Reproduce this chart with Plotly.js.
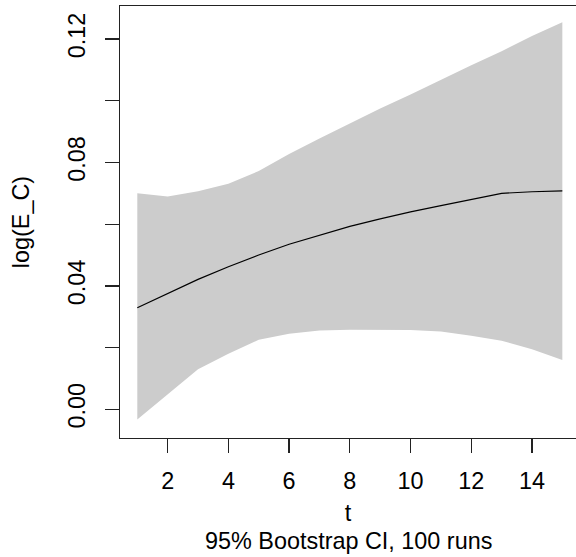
<!DOCTYPE html>
<html>
<head>
<meta charset="utf-8">
<script src="https://cdn.plot.ly/plotly-3.0.1.min.js"></script>
<style>html,body{margin:0;padding:0;background:#fff;}#chart{width:576px;height:557px;}</style>
</head>
<body>
<div id="chart"></div>
<script>
var t = [1,2,3,4,5,6,7,8,9,10,11,12,13,14,15];
var estimate = [0.0329,0.0375,0.0421,0.0462,0.0500,0.0535,0.0565,0.0593,0.0617,0.0640,0.0660,0.0680,0.0700,0.0705,0.0708];
var upper = [0.0700,0.0690,0.0707,0.0731,0.0772,0.0827,0.0878,0.0926,0.0975,0.1020,0.1068,0.1115,0.1160,0.1210,0.1254];
var lower = [-0.0033,0.0050,0.0130,0.0180,0.0225,0.0245,0.0255,0.0258,0.0258,0.0257,0.0252,0.0238,0.0222,0.0195,0.0160];
var xTicks = [2,4,6,8,10,12,14];
var yTicks = [0,0.02,0.04,0.06,0.08,0.10,0.12];
var yTickText = ['0.00','','0.04','','0.08','','0.12'];
var xTitle = 't';
var yTitle = 'log(E_C)';
var subTitle = '95% Bootstrap CI, 100 runs';

var bandX = t.concat(t.slice().reverse());
var bandY = upper.concat(lower.slice().reverse());

var font = {family: 'Liberation Sans, Arial, sans-serif', size: 23.4, color: '#000'};

var data = [
  {x: bandX, y: bandY, type: 'scatter', mode: 'lines', fill: 'toself',
   fillcolor: '#CCCCCC', line: {width: 0, color: '#CCCCCC'}, hoverinfo: 'skip'},
  {x: t, y: estimate, type: 'scatter', mode: 'lines',
   line: {color: '#000', width: 1.2, shape: 'linear'}}
];

var layout = {
  width: 576, height: 557,
  margin: {l: 120, r: 0, t: 6, b: 119, pad: 0},
  showlegend: false,
  paper_bgcolor: '#fff', plot_bgcolor: '#fff',
  font: font,
  xaxis: {
    range: [0.43, 15.45], tickvals: xTicks, ticktext: xTicks.map(String),
    ticks: 'outside', ticklen: 14, tickwidth: 1.3, tickcolor: '#222',
    showline: true, mirror: true, linecolor: '#222', linewidth: 1.3,
    showgrid: false, zeroline: false, tickfont: font,
    ticklabelstandoff: 8,
    title: {text: xTitle, font: font, standoff: 11}
  },
  yaxis: {
    range: [-0.0093, 0.1307], tickvals: yTicks, ticktext: yTickText,
    ticks: 'outside', ticklen: 14, tickwidth: 1.3, tickcolor: '#222',
    showline: true, mirror: false, linecolor: '#222', linewidth: 1.3,
    showgrid: false, zeroline: false, tickfont: font, tickangle: -90,
    ticklabelstandoff: 10,
    title: {text: yTitle, font: font, standoff: 28}
  },
  annotations: [
    {text: subTitle, xref: 'paper', yref: 'paper', x: 0.5, y: 0,
     xanchor: 'center', yanchor: 'middle', yshift: -103, showarrow: false, font: font}
  ]
};

Plotly.newPlot('chart', data, layout, {staticPlot: true});
</script>
</body>
</html>
